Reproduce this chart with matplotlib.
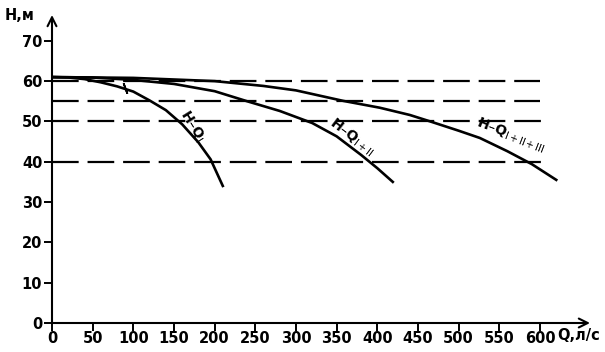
import matplotlib
matplotlib.use("Agg")
import matplotlib.pyplot as plt
import numpy as np

# ---- data ----
q1 = [0, 20, 40, 60, 80, 100, 120, 140, 160, 180, 195, 210]
h1 = [61, 60.9, 60.5, 59.7, 58.7, 57.4, 55.2, 52.8, 49.3, 44.8, 40.6, 34.0]

q2 = [0, 50, 100, 150, 200, 240, 280, 320, 350, 380, 400, 419]
h2 = [61, 60.9, 60.3, 59.3, 57.5, 55.0, 52.6, 49.6, 46.3, 41.7, 38.4, 35.0]

q3 = [0, 100, 200, 260, 300, 358, 403, 440, 465, 500, 526, 560, 590, 620]
h3 = [61, 60.8, 60.0, 58.8, 57.7, 55.1, 53.4, 51.6, 50.0, 47.7, 45.9, 42.6, 39.4, 35.5]

ref_levels = [60, 55, 50, 40]
ref_ends = [600, 600, 610, 610]

x_ticks = list(range(0, 601, 50))
y_ticks = list(range(0, 71, 10))

labels = [r"H–Q$_{\mathrm{I}}$", r"H–Q$_{\mathrm{I+II}}$", r"H–Q$_{\mathrm{I+II+III}}$"]

# ---- figure ----
W, H = 605, 352
fig = plt.figure(figsize=(W / 100, H / 100), dpi=100)
ax = fig.add_axes([52 / W, 29 / H, 538 / W, 308 / H])
ax.set_xlim(0, 661.5)
ax.set_ylim(0, 76.4)

for s in ax.spines.values():
    s.set_visible(False)

lw_axis = 1.5
ax.annotate("", xy=(1, 0), xytext=(0, 0), xycoords="axes fraction",
            arrowprops=dict(arrowstyle="->", lw=lw_axis, color="black",
                            mutation_scale=16, shrinkA=0, shrinkB=0))
ax.annotate("", xy=(0, 1), xytext=(0, 0), xycoords="axes fraction",
            arrowprops=dict(arrowstyle="->", lw=lw_axis, color="black",
                            mutation_scale=16, shrinkA=0, shrinkB=0))

# reference dashed lines
for lev, end in zip(ref_levels, ref_ends):
    ax.plot([0, end], [lev, lev], color="black", lw=1.6,
            dashes=(12, 4), solid_capstyle="butt", dash_capstyle="butt")

# curves
curve_lw = 1.9
ax.plot(q1, h1, color="black", lw=curve_lw, solid_joinstyle="round")
ax.plot(q2, h2, color="black", lw=curve_lw, solid_joinstyle="round")
ax.plot(q3, h3, color="black", lw=curve_lw, solid_joinstyle="round")

# small tick mark on first curve
ax.plot([q1[4] + 10], [h1[4] - 0.4], marker=(2, 2, 20), ms=8, mew=1.3, color="black")

# curve labels
font_lab = dict(fontsize=10, fontweight="bold", color="black", ha="center", va="center",
                rotation_mode="anchor")
ax.text(172, 48.8, labels[0], rotation=-58, **font_lab)
ax.text(368, 46.0, labels[1], rotation=-37, **font_lab)
ax.text(564, 46.6, labels[2], rotation=-21, **font_lab)

# ticks
ax.set_xticks(x_ticks)
ax.set_yticks(y_ticks)
ax.set_xticklabels([str(v) for v in x_ticks])
ax.set_yticklabels([str(v) for v in y_ticks])
ax.tick_params(axis="both", direction="out", length=6, width=1.4, labelsize=10.5, pad=1)
ax.tick_params(axis="x", pad=0)
for t in ax.get_xticklabels() + ax.get_yticklabels():
    t.set_fontweight("bold")

# axis labels
fig.text(5 / W, 1 - 16 / H, "H,м", fontsize=10.5, fontweight="bold", ha="left", va="center")
fig.text(600 / W, 1 - 335 / H, "Q,л/с", fontsize=10.5, fontweight="bold", ha="right", va="center")

fig.savefig("out.png", dpi=100)
